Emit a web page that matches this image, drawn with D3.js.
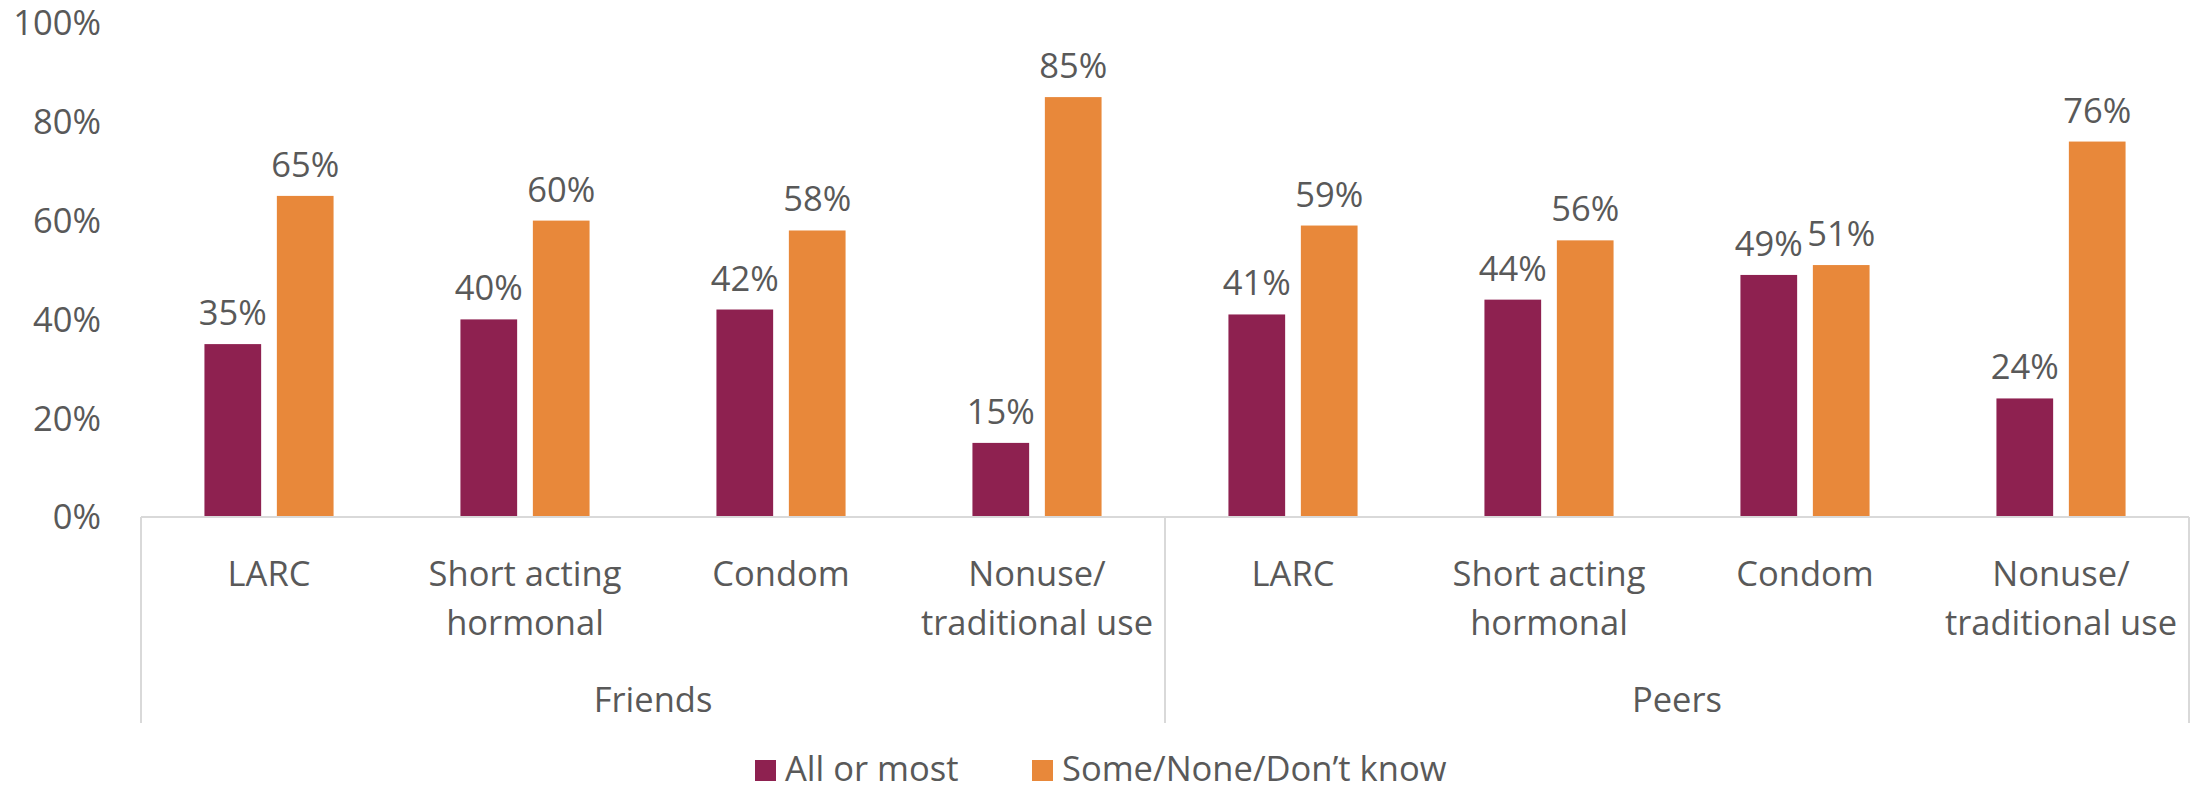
<!DOCTYPE html>
<html>
<head>
<meta charset="utf-8">
<script src="https://cdn.jsdelivr.net/npm/d3@7"></script>
<style>
  body { margin: 0; background: #fff; }
  text { font-family: "Open Sans", sans-serif; fill: #595959; }
</style>
</head>
<body>
<script>
// Chart data
const groups = ["Friends", "Peers"];
const methods = [["LARC"], ["Short acting", "hormonal"], ["Condom"], ["Nonuse/", "traditional use"]];
const series = ["All or most", "Some/None/Don\u2019t know"];
const allOrMost = [35, 40, 42, 15, 41, 44, 49, 24];
const someNone = [65, 60, 58, 85, 59, 56, 51, 76];
const yTicks = [0, 20, 40, 60, 80, 100];
const colors = ["#8E2150", "#E8883A"];

const width = 2192, height = 788;
const margin = {top: 23, right: 3, bottom: 271, left: 141};
const fontSize = 34.5;

const svg = d3.select("body").append("svg")
    .attr("width", width)
    .attr("height", height);

// one slot per (group, method)
const slots = [];
groups.forEach((g, gi) => methods.forEach((m, mi) => slots.push({group: g, lines: m, i: gi * methods.length + mi})));

const x = d3.scaleBand()
    .domain(slots.map(d => d.i))
    .range([margin.left, width - margin.right]);

const xInner = d3.scaleBand()
    .domain(series)
    .range([0, x.bandwidth()])
    .paddingInner(0.217)
    .paddingOuter(0.876);

const y = d3.scaleLinear()
    .domain([0, 100])
    .range([height - margin.bottom, margin.top]);

// y tick labels
svg.append("g")
  .selectAll("text")
  .data(yTicks)
  .enter().append("text")
    .attr("x", 101)
    .attr("y", d => y(d))
    .attr("dy", "0.36em")
    .attr("text-anchor", "end")
    .style("font-size", fontSize + "px")
    .text(d => d + "%");

// bars
const values = [allOrMost, someNone];
const slotG = svg.selectAll("g.slot")
  .data(slots)
  .enter().append("g")
    .attr("class", "slot")
    .attr("transform", d => `translate(${x(d.i)},0)`);

series.forEach((s, si) => {
  slotG.append("rect")
    .attr("x", xInner(s))
    .attr("width", xInner.bandwidth())
    .attr("y", d => y(values[si][d.i]))
    .attr("height", d => y(0) - y(values[si][d.i]))
    .attr("fill", colors[si]);

  slotG.append("text")
    .attr("x", xInner(s) + xInner.bandwidth() / 2)
    .attr("y", d => y(values[si][d.i]) - 19)
    .attr("text-anchor", "middle")
    .style("font-size", fontSize + "px")
    .text(d => values[si][d.i] + "%");
});

// category labels
slotG.append("text")
    .attr("text-anchor", "middle")
    .style("font-size", fontSize + "px")
  .selectAll("tspan")
  .data(d => d.lines)
  .enter().append("tspan")
    .attr("x", x.bandwidth() / 2)
    .attr("y", (d, i) => 586 + i * 49)
    .text(d => d);

// axis lines
const axisColor = "#D9D9D9";
svg.append("line")
    .attr("x1", margin.left).attr("x2", width - margin.right)
    .attr("y1", y(0)).attr("y2", y(0))
    .attr("stroke", axisColor).attr("stroke-width", 2);

const groupW = x.step() * methods.length;
const bounds = d3.range(groups.length + 1).map(i => margin.left + i * groupW);
svg.selectAll("line.sep")
  .data(bounds)
  .enter().append("line")
    .attr("class", "sep")
    .attr("x1", d => d).attr("x2", d => d)
    .attr("y1", y(0)).attr("y2", 723)
    .attr("stroke", axisColor).attr("stroke-width", 2);

// group labels
svg.selectAll("text.group")
  .data(groups)
  .enter().append("text")
    .attr("class", "group")
    .attr("x", (d, i) => bounds[i] + groupW / 2)
    .attr("y", 712)
    .attr("text-anchor", "middle")
    .style("font-size", fontSize + "px")
    .text(d => d);

// legend
const legendX = [755, 1032];
const legend = svg.selectAll("g.legend")
  .data(series)
  .enter().append("g")
    .attr("class", "legend")
    .attr("transform", (d, i) => `translate(${legendX[i]},760)`);

legend.append("rect")
    .attr("width", 21).attr("height", 21)
    .attr("fill", (d, i) => colors[i]);

legend.append("text")
    .attr("x", 30)
    .attr("y", 21)
    .style("font-size", fontSize + "px")
    .text(d => d);
</script>
</body>
</html>
